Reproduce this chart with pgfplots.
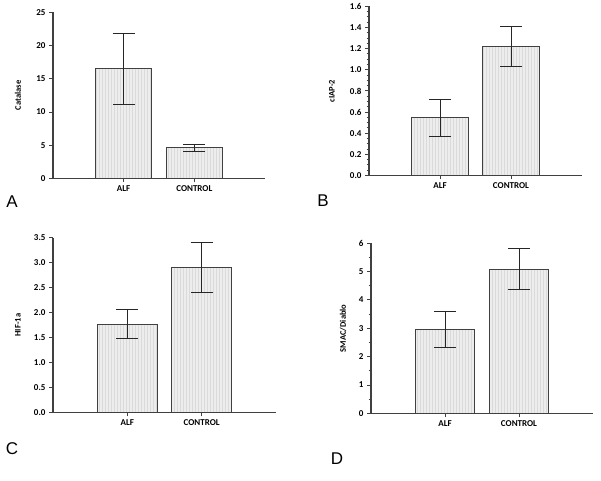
\documentclass[border=0pt]{standalone}
\usepackage{pgfplots}
\pgfplotsset{compat=1.18}
\usepackage{fontspec}
\setmainfont{Carlito}
\newfontfamily\letterfont{Liberation Sans}
\usetikzlibrary{patterns}

\definecolor{axisgray}{HTML}{404040}
\definecolor{barfill}{HTML}{EDEDED}
\definecolor{barstripe}{HTML}{DADADA}

\pgfplotsset{
  panel/.style={
    scale only axis,
    anchor=south west,
    axis lines*=left,
    axis line style={axisgray, line width=1.1pt},
    xmin=0, xmax=3,
    ymin=0,
    xtick={1,2},
    xticklabels={ALF,CONTROL},
    tick align=outside,
    tick style={axisgray, line width=1pt},
    major tick length=4pt,
    minor tick length=2.5pt,
    ticklabel style={font=\bfseries\fontsize{9}{10}\selectfont, text=black},
    /pgf/number format/assume math mode=true,
    ylabel style={font=\bfseries\fontsize{8.5}{10}\selectfont, anchor=center},
    clip=false,
  },
  bars/.style={
    ybar, bar width=0.8, bar shift=0pt,
    draw=axisgray, line width=1pt,
    fill=barfill,
    postaction={pattern=vertical lines, pattern color=barstripe},
    error bars/.cd, y dir=both, y explicit,
    error bar style={black!85, line width=1pt},
    error mark options={rotate=90, mark size=11pt, line width=1pt, black!85},
  },
}

\begin{document}
\begin{tikzpicture}[x=1pt,y=1pt]
\path (0,0) rectangle (601,479);

% A: Catalase
\begin{axis}[panel, at={(53pt,302pt)}, width=212pt, height=166pt,
  ymax=25, ytick={0,5,10,15,20,25},
  ylabel={Catalase}, ylabel style={at={(axis description cs:-0.165,0.5)}}]
\addplot[bars] coordinates {(1,16.5) +- (0,5.35) (2,4.65) +- (0,0.53)};
\end{axis}

% B: cIAP-2
\begin{axis}[panel, at={(369pt,305pt)}, width=213pt, height=169pt,
  ymax=1.6, ytick={0,0.2,...,1.6}, minor y tick num=3,
  yticklabel style={/pgf/number format/.cd, fixed, fixed zerofill, precision=1},
  ylabel={cIAP-2}, ylabel style={at={(axis description cs:-0.174,0.5)}}]
\addplot[bars] coordinates {(1,0.545) +- (0,0.177) (2,1.222) +- (0,0.19)};
\end{axis}

% C: HIF-1a
\begin{axis}[panel, at={(53pt,68pt)}, width=223pt, height=174.7pt,
  ymax=3.5, ytick={0,0.5,...,3.5},
  yticklabel style={/pgf/number format/.cd, fixed, fixed zerofill, precision=1},
  ylabel={HIF-1a}, ylabel style={at={(axis description cs:-0.157,0.5)}}]
\addplot[bars] coordinates {(1,1.77) +- (0,0.285) (2,2.9) +- (0,0.495)};
\end{axis}

% D: SMAC/Diablo
\begin{axis}[panel, at={(371pt,67pt)}, width=222pt, height=170.3pt,
  ymax=6, ytick={0,1,...,6}, minor y tick num=1,
  ylabel={SMAC/Diablo}, ylabel style={at={(axis description cs:-0.126,0.5)}}]
\addplot[bars] coordinates {(1,2.97) +- (0,0.63) (2,5.08) +- (0,0.73)};
\end{axis}

\node[font=\letterfont\fontsize{17}{19}\selectfont] at (12,279) {A};
\node[font=\letterfont\fontsize{17}{19}\selectfont] at (323,280) {B};
\node[font=\letterfont\fontsize{17}{19}\selectfont] at (12,32) {C};
\node[font=\letterfont\fontsize{17}{19}\selectfont] at (337,22) {D};
\end{tikzpicture}
\end{document}
